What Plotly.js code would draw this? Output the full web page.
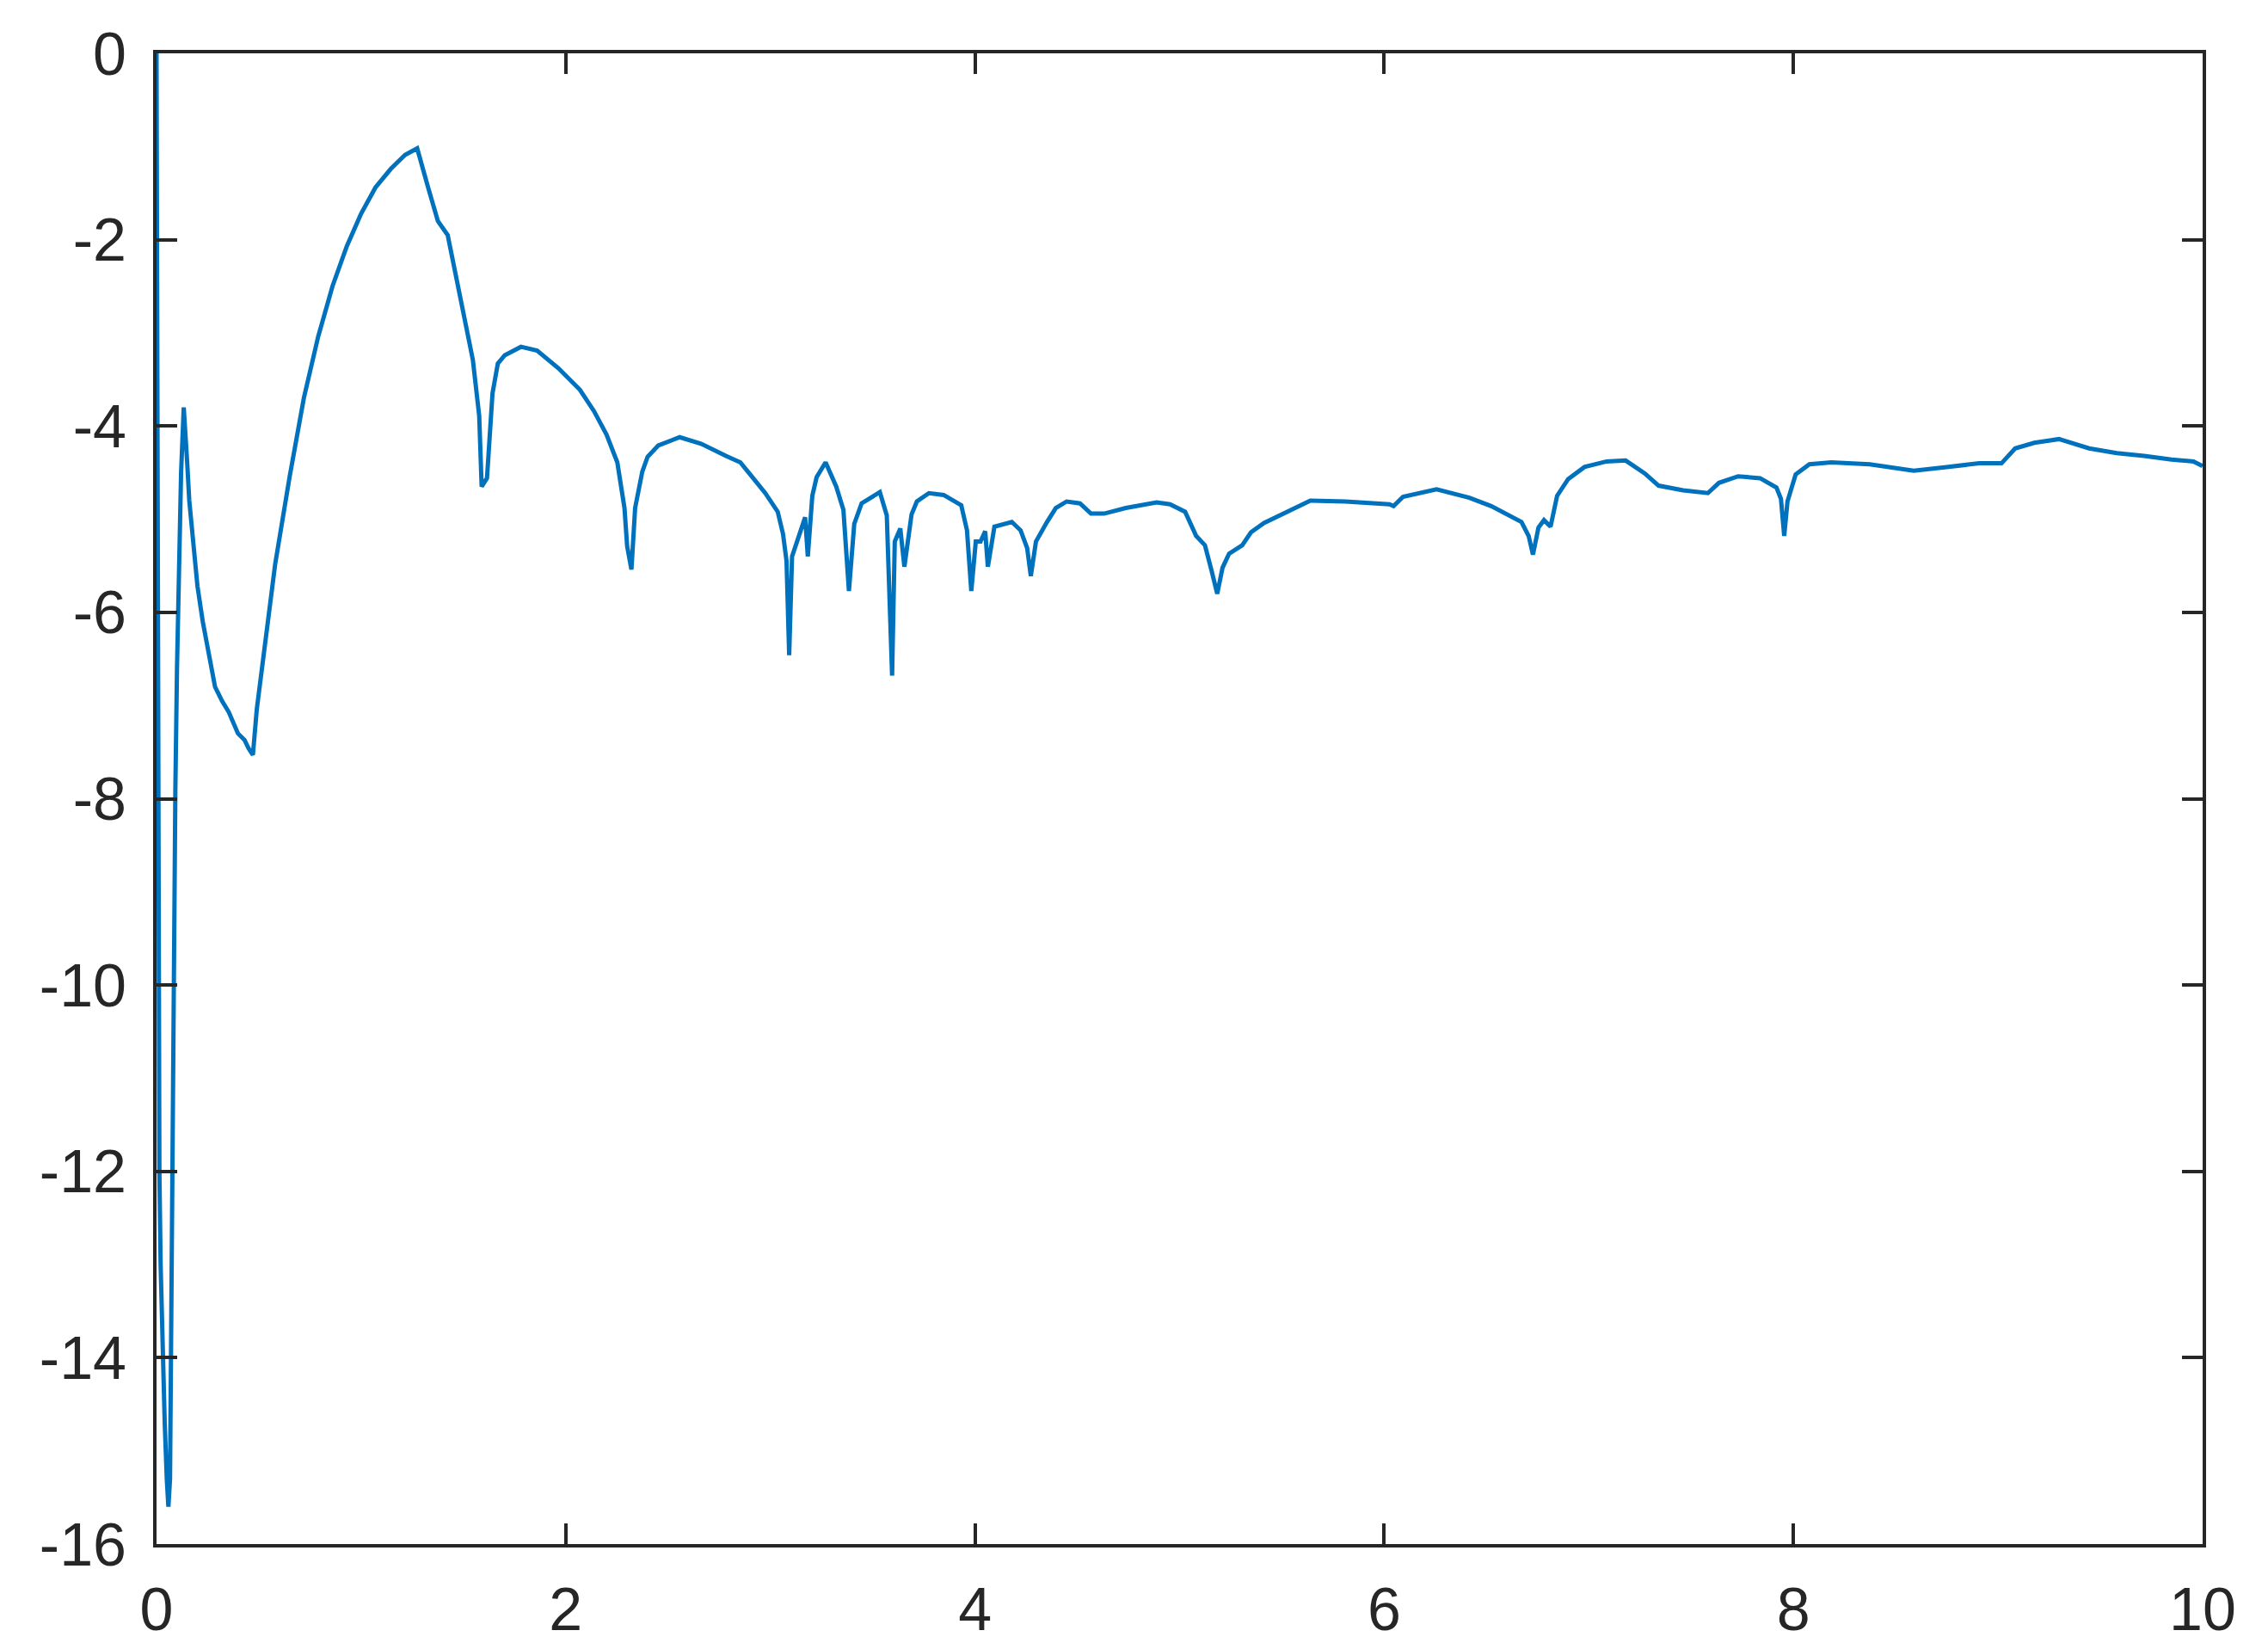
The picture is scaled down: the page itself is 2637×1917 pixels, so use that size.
<!DOCTYPE html>
<html>
<head>
<meta charset="utf-8">
<script src="https://cdn.plot.ly/plotly-3.0.1.min.js"></script>
<style>
  html, body { margin: 0; padding: 0; background: #fff; }
  #chart { width: 2637px; height: 1917px; }
</style>
</head>
<body>
<div id="chart"></div>
<script>
// curve
var xs = [
  0, 0.004, 0.007, 0.01, 0.014, 0.02, 0.03, 0.04, 0.05, 0.058, 0.066, 0.072, 0.078, 0.085, 0.092, 0.1, 0.11, 0.12, 0.133,
  0.14, 0.15, 0.16, 0.177, 0.2, 0.226, 0.26, 0.286, 0.32, 0.353, 0.398, 0.43, 0.45, 0.471,
  0.49, 0.53, 0.58, 0.65, 0.72, 0.79, 0.86, 0.93, 1.0, 1.07, 1.145, 1.215, 1.274,
  1.326, 1.375, 1.423, 1.463, 1.503, 1.546, 1.577, 1.589, 1.615, 1.642, 1.668, 1.702, 1.781, 1.86, 1.964,
  2.069, 2.138, 2.199, 2.252, 2.287, 2.30, 2.321, 2.339, 2.374, 2.40, 2.452, 2.557, 2.661, 2.783, 2.853,
  2.905, 2.975, 3.036, 3.062, 3.079, 3.092, 3.106, 3.13, 3.17, 3.183, 3.205, 3.226, 3.27, 3.322, 3.357,
  3.384, 3.41, 3.446, 3.535, 3.569, 3.595, 3.608, 3.635, 3.655, 3.69, 3.716, 3.775, 3.847, 3.933, 3.961,
  3.982, 4.004, 4.027, 4.05, 4.063, 4.095, 4.18, 4.223, 4.255, 4.273, 4.298, 4.352, 4.395, 4.448, 4.513,
  4.567, 4.631, 4.738, 4.888, 4.953, 5.027, 5.081, 5.124, 5.156, 5.184, 5.21, 5.242, 5.306, 5.349, 5.413,
  5.467, 5.532, 5.639, 5.81, 6.025, 6.046, 6.092, 6.256, 6.416, 6.523, 6.604, 6.671, 6.706, 6.727, 6.754,
  6.781, 6.813, 6.845, 6.899, 6.979, 7.087, 7.18, 7.274, 7.341, 7.461, 7.582, 7.636, 7.73, 7.837, 7.917,
  7.939, 7.955, 7.971, 8.011, 8.078, 8.185, 8.373, 8.588, 8.749, 8.909, 9.017, 9.084, 9.177, 9.298, 9.445,
  9.58, 9.714, 9.848, 9.955, 10.0
];
var ys = [
  0, -3, -6, -9.5, -12, -13, -14, -14.7, -15.3, -15.6, -15.3, -13.5, -11.3, -9.5, -7.9, -6.6, -5.4, -4.5, -3.8,
  -4.0, -4.4, -4.8, -5.2, -5.72, -6.1, -6.5, -6.8, -6.95, -7.07, -7.3, -7.37, -7.46, -7.53,
  -7.04, -6.34, -5.48, -4.55, -3.7, -3.04, -2.5, -2.07, -1.72, -1.44, -1.24, -1.09, -1.02,
  -1.43, -1.80, -1.95, -2.38, -2.81, -3.29, -3.89, -4.65, -4.56, -3.65, -3.33, -3.24, -3.15, -3.19, -3.38,
  -3.61, -3.84, -4.09, -4.39, -4.88, -5.29, -5.54, -4.88, -4.49, -4.33, -4.21, -4.12, -4.19, -4.32, -4.39,
  -4.53, -4.72, -4.92, -5.16, -5.45, -6.46, -5.40, -5.23, -4.98, -5.40, -4.75, -4.55, -4.39, -4.65, -4.90,
  -5.77, -5.05, -4.83, -4.71, -4.96, -6.68, -5.24, -5.10, -5.51, -4.95, -4.81, -4.72, -4.74, -4.85, -5.12,
  -5.77, -5.24, -5.24, -5.13, -5.51, -5.08, -5.03, -5.12, -5.31, -5.61, -5.24, -5.03, -4.88, -4.81, -4.83,
  -4.94, -4.94, -4.88, -4.82, -4.84, -4.92, -5.18, -5.28, -5.55, -5.80, -5.52, -5.37, -5.28, -5.14, -5.04,
  -4.98, -4.91, -4.80, -4.81, -4.84, -4.86, -4.76, -4.68, -4.77, -4.86, -4.95, -5.03, -5.18, -5.38, -5.09,
  -5.01, -5.08, -4.75, -4.57, -4.44, -4.38, -4.37, -4.51, -4.64, -4.69, -4.72, -4.61, -4.54, -4.56, -4.66,
  -4.78, -5.18, -4.81, -4.52, -4.41, -4.39, -4.41, -4.48, -4.44, -4.40, -4.40, -4.24, -4.18, -4.14, -4.24,
  -4.29, -4.32, -4.36, -4.38, -4.43
];

var xTicks = [0, 2, 4, 6, 8, 10];
var yTicks = [0, -2, -4, -6, -8, -10, -12, -14, -16];

var trace = {
  x: xs,
  y: ys,
  type: 'scatter',
  mode: 'lines',
  line: { color: '#0072BD', width: 5 },
  hoverinfo: 'skip'
};

var axisStyle = {
  showgrid: false,
  zeroline: false,
  showline: true,
  mirror: 'ticks',
  linecolor: '#262626',
  linewidth: 4,
  ticks: 'inside',
  ticklen: 24,
  tickwidth: 4,
  tickcolor: '#262626',
  tickfont: { family: 'Liberation Sans, Arial, sans-serif', size: 70, color: '#262626' },
  tickmode: 'array'
};

var layout = {
  width: 2637,
  height: 1917,
  margin: { l: 182, r: 76, t: 62, b: 122 },
  paper_bgcolor: '#ffffff',
  plot_bgcolor: '#ffffff',
  showlegend: false,
  xaxis: Object.assign({}, axisStyle, {
    range: [0, 10],
    tickvals: xTicks,
    ticktext: xTicks.map(String),
    ticklabelstandoff: 12
  }),
  yaxis: Object.assign({}, axisStyle, {
    range: [-16, 0],
    tickvals: yTicks,
    ticktext: yTicks.map(String),
    ticklabelstandoff: 17
  })
};

Plotly.newPlot('chart', [trace], layout, { displayModeBar: false, staticPlot: true });
</script>
</body>
</html>
